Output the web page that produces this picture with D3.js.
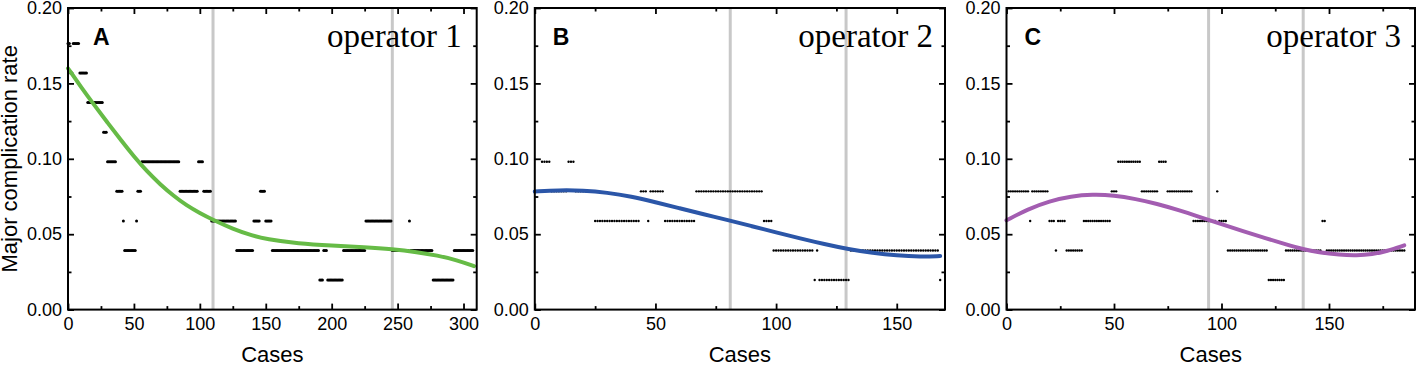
<!DOCTYPE html>
<html>
<head>
<meta charset="utf-8">
<script src="https://cdn.jsdelivr.net/npm/d3@7/dist/d3.min.js"></script>
<style>
  body { margin: 0; background: #fff; }
  svg text { font-family: Arial, "Liberation Sans", sans-serif; fill: #000; }
</style>
</head>
<body>
<svg id="chart" width="1419" height="365"></svg>
<script>
//Chart data: each panel is one operator

const panelLetters = ["A", "B", "C"];
const operatorNames = ["operator 1", "operator 2", "operator 3"];
const caseLimits = [310, 170, 190];

const xTicksA = [0, 50, 100, 150, 200, 250, 300];
const xTicksB = [0, 50, 100, 150];
const xTicksC = [0, 50, 100, 150];
const yTicks = [0, 0.05, 0.10, 0.15, 0.20];
const yMinorTicks = [0.025, 0.075, 0.125, 0.175];

//Vertical cut lines (cases)

const cutsA = [110, 246];
const cutsB = [81, 129];
const cutsC = [94, 138];

//Moving complication rate, stored as runs: [first case, last case, rate]

const ratesA = [
  [0, 1, 0.1765], [2, 3, 0.1569], [4, 8, 0.1765], [9, 14, 0.1569], [15, 26, 0.1373],
  [27, 29, 0.1176], [30, 36, 0.0980], [37, 41, 0.0784], [42, 42, 0.0588], [43, 51, 0.0392],
  [52, 52, 0.0588], [53, 55, 0.0784], [56, 84, 0.0980], [85, 98, 0.0784], [99, 102, 0.0980],
  [103, 108, 0.0784], [109, 127, 0.0588], [128, 140, 0.0392], [141, 145, 0.0588], [146, 149, 0.0784],
  [150, 154, 0.0588], [155, 190, 0.0392], [191, 193, 0.0196], [194, 196, 0.0392], [197, 208, 0.0196],
  [209, 225, 0.0392], [226, 245, 0.0588], [246, 258, 0.0392], [259, 259, 0.0588], [260, 276, 0.0392],
  [277, 292, 0.0196], [293, 307, 0.0392]
];

const ratesB = [
  [0, 2, 0.0784], [3, 6, 0.0980], [7, 13, 0.0784], [14, 16, 0.0980], [17, 24, 0.0784],
  [25, 43, 0.0588], [44, 46, 0.0784], [47, 47, 0.0588], [48, 53, 0.0784], [54, 66, 0.0588],
  [67, 94, 0.0784], [95, 98, 0.0588], [99, 115, 0.0392], [116, 116, 0.0196], [117, 117, 0.0392],
  [118, 130, 0.0196], [131, 167, 0.0392], [168, 168, 0.0196]
];

const ratesC = [
  [0, 0, 0.0588], [1, 10, 0.0784], [11, 11, 0.0588], [12, 19, 0.0784], [20, 22, 0.0588],
  [23, 23, 0.0392], [24, 27, 0.0588], [28, 35, 0.0392], [36, 48, 0.0588], [49, 51, 0.0784],
  [52, 62, 0.0980], [63, 70, 0.0784], [71, 74, 0.0980], [75, 86, 0.0784], [87, 97, 0.0588],
  [98, 98, 0.0784], [99, 102, 0.0588], [103, 121, 0.0392], [122, 129, 0.0196], [130, 146, 0.0392],
  [147, 148, 0.0588], [149, 185, 0.0392]
];

//Fitted curves: [case, rate]

const fitA = [
  [0, 0.160], [10, 0.1475], [20, 0.1355], [30, 0.124], [40, 0.1125], [50, 0.1015], [60, 0.0915],
  [70, 0.083], [80, 0.0755], [90, 0.069], [100, 0.064], [110, 0.0595], [125, 0.0535], [140, 0.049],
  [150, 0.0468], [175, 0.0437], [200, 0.0424], [225, 0.0414], [246, 0.0401], [265, 0.0381],
  [280, 0.036], [295, 0.0328], [308, 0.0288]
];

const fitB = [
  [0, 0.0783], [10, 0.0792], [20, 0.0790], [30, 0.0776], [40, 0.0750], [50, 0.0712], [60, 0.0672],
  [70, 0.0632], [80, 0.0594], [90, 0.0553], [100, 0.0512], [110, 0.0472], [120, 0.0434],
  [130, 0.0400], [140, 0.0375], [150, 0.0358], [160, 0.0351], [168, 0.0355]
];

const fitC = [
  [0, 0.0592], [10, 0.0667], [20, 0.0720], [30, 0.0752], [40, 0.0764], [50, 0.0758], [60, 0.0734],
  [70, 0.0702], [80, 0.0660], [90, 0.0613], [100, 0.0566], [110, 0.0520], [120, 0.0476],
  [130, 0.0432], [138, 0.0400], [145, 0.0380], [155, 0.0363], [163, 0.0359], [170, 0.0367],
  [177, 0.0387], [185, 0.0426]
];

//Layout of the three frames

const plotTop = 8, plotBottom = 309.6;
const frames = [
  { left: 68, right: 476.7, letterDx: 25, nameDx: 15, color: "#66bb46", dot: 1.5 },
  { left: 534.8, right: 945, letterDx: 18, nameDx: 12, color: "#2b56a8", dot: 1.2 },
  { left: 1006.5, right: 1415, letterDx: 18, nameDx: 14, color: "#a35db1", dot: 1.2 }
];

const svg = d3.select("#chart");

function styleAxis(g, fontSize) {
  g.select(".domain").remove();
  g.selectAll("line").attr("stroke", "#000").attr("stroke-width", 1.8);
  g.selectAll("text").attr("font-size", fontSize).attr("font-family", "Arial, 'Liberation Sans', sans-serif").attr("fill", "#000");
}

function plotPanel(i, runs, fit, cuts, xTicks) {
  const f = frames[i];
  const g = svg.append("g");

  const x = d3.scaleLinear().domain([0, caseLimits[i]]).range([f.left, f.right]);
  const y = d3.scaleLinear().domain([0, 0.20]).range([plotBottom, plotTop]);

  //cut lines

  g.selectAll(".cut")
   .data(cuts)
   .enter().append("line")
   .attr("x1", d => x(d)).attr("x2", d => x(d))
   .attr("y1", plotTop).attr("y2", plotBottom)
   .attr("stroke", "#c8c8c8")
   .attr("stroke-width", 3);

  //points, one per case

  const points = [];
  runs.forEach(r => { for (let c = r[0]; c <= r[1]; c++) points.push({ x: c, y: r[2] }); });

  g.selectAll(".pt")
   .data(points)
   .enter().append("circle")
   .attr("cx", d => x(d.x))
   .attr("cy", d => y(d.y))
   .attr("r", f.dot)
   .attr("fill", "#000");

  //fitted curve

  g.append("path")
   .datum(fit)
   .attr("fill", "none")
   .attr("stroke", f.color)
   .attr("stroke-width", 4)
   .attr("stroke-linecap", "round")
   .attr("d", d3.line()
     .curve(d3.curveBasis)
     .x(d => x(d[0]))
     .y(d => y(d[1])));

  //axes, ticks pointing inward

  const xMinor = d3.range(25, caseLimits[i], 50);

  g.append("g").attr("transform", `translate(0,${plotBottom})`)
   .call(d3.axisBottom(x).tickValues(xTicks).tickSize(-6).tickPadding(7.5).tickFormat(d3.format("d")))
   .call(a => styleAxis(a, 18));
  g.append("g").attr("transform", `translate(0,${plotBottom})`)
   .call(d3.axisBottom(x).tickValues(xMinor).tickSize(-3.5).tickFormat(""))
   .call(a => styleAxis(a, 18));
  g.append("g").attr("transform", `translate(0,${plotTop})`)
   .call(d3.axisTop(x).tickValues(xTicks).tickSize(-6).tickFormat(""))
   .call(a => styleAxis(a, 18));
  g.append("g").attr("transform", `translate(0,${plotTop})`)
   .call(d3.axisTop(x).tickValues(xMinor).tickSize(-3.5).tickFormat(""))
   .call(a => styleAxis(a, 18));

  g.append("g").attr("transform", `translate(${f.left},0)`)
   .call(d3.axisLeft(y).tickValues(yTicks).tickSize(-6).tickPadding(6).tickFormat(d3.format(".2f")))
   .call(a => styleAxis(a, 18));
  g.append("g").attr("transform", `translate(${f.left},0)`)
   .call(d3.axisLeft(y).tickValues(yMinorTicks).tickSize(-3.5).tickFormat(""))
   .call(a => styleAxis(a, 18));
  g.append("g").attr("transform", `translate(${f.right},0)`)
   .call(d3.axisRight(y).tickValues(yTicks).tickSize(-6).tickFormat(""))
   .call(a => styleAxis(a, 18));
  g.append("g").attr("transform", `translate(${f.right},0)`)
   .call(d3.axisRight(y).tickValues(yMinorTicks).tickSize(-3.5).tickFormat(""))
   .call(a => styleAxis(a, 18));

  //frame

  g.append("rect")
   .attr("x", f.left).attr("y", plotTop)
   .attr("width", f.right - f.left).attr("height", plotBottom - plotTop)
   .attr("fill", "none")
   .attr("stroke", "#000")
   .attr("stroke-width", 2);

  //labels

  g.append("text")
   .attr("x", f.left + f.letterDx).attr("y", 45)
   .attr("font-size", 23).attr("font-weight", "bold")
   .text(panelLetters[i]);

  g.append("text")
   .attr("x", f.right - f.nameDx).attr("y", 46.5)
   .attr("text-anchor", "end")
   .attr("font-size", 33)
   .style("font-family", "'Liberation Serif', 'Times New Roman', serif")
   .text(operatorNames[i]);

  g.append("text")
   .attr("x", (f.left + f.right) / 2).attr("y", 362)
   .attr("text-anchor", "middle")
   .attr("font-size", 22)
   .text("Cases");
}

plotPanel(0, ratesA, fitA, cutsA, xTicksA);
plotPanel(1, ratesB, fitB, cutsB, xTicksB);
plotPanel(2, ratesC, fitC, cutsC, xTicksC);

//Y axis title, only on the first panel

svg.append("text")
 .attr("transform", `translate(17,${(plotTop + plotBottom) / 2}) rotate(-90)`)
 .attr("text-anchor", "middle")
 .attr("font-size", 22)
 .text("Major complication rate");
</script>
</body>
</html>
